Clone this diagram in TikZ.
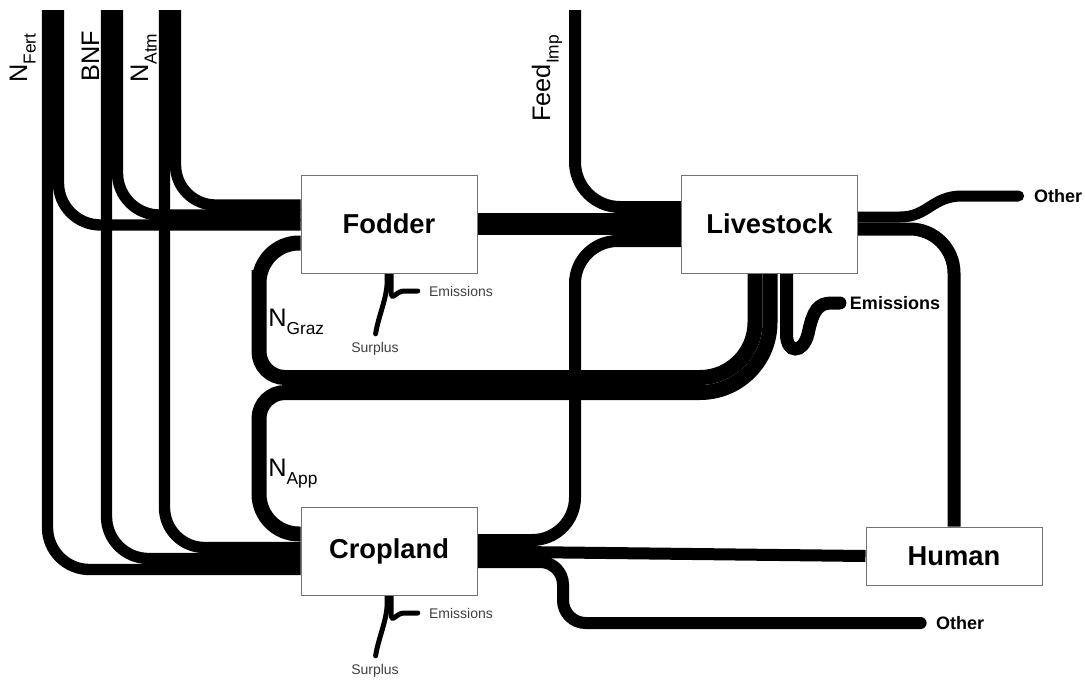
\documentclass[tikz,border=0pt]{standalone}
\usepackage{fontspec}
\setmainfont{Liberation Sans}
\usetikzlibrary{backgrounds}
\newcommand{\nsub}[2]{#1\raisebox{-6.5pt}{\fontsize{13}{13}\selectfont #2}}

\begin{document}
\begin{tikzpicture}[x=0.75pt,y=-0.75pt,
            box/.style={draw=black!55,line width=0.75pt,fill=white,minimum width=132pt,font=\fontsize{20.5}{24}\selectfont\bfseries},
            flow/.style={draw=black,line width=#1},
            tipend/.style={line cap=round,shorten >=8pt},
            stub/.style={draw=black,line width=3.75pt,line cap=round,shorten >=3pt},
            lab/.style={inner sep=0pt,anchor=base west,font=\fontsize{19}{22}\selectfont},
            sink/.style={font=\fontsize{13.5}{16}\selectfont\bfseries},
            small/.style={text=black!75,font=\fontsize{10.5}{12}\selectfont}]
            \useasboundingbox (0,0) rectangle (1085,682);
            \node[box,minimum height=73.5pt] (fod) at (389,224) {Fodder};
            \node[box,minimum height=73.5pt] (live) at (769.5,224) {Livestock};
            \node[box,minimum height=66pt] (crop) at (389,551) {Cropland};
            \node[box,minimum height=43.5pt] (hum) at (954,556) {Human};
            \node[sink] (lother) at (1058,196) {Other};
            \node[sink] (lemis) at (895,303) {Emissions};
            \node[sink] (cother) at (960,623) {Other};
            \node[small] (femis) at (461,291) {Emissions};
            \node[small] (fsur) at (375,349) {Surplus};
            \node[small] (cemis) at (461,613) {Emissions};
            \node[small] (csur) at (375,671) {Surplus};
            \node[lab,rotate=90] at (27,83) {\nsub{N}{Fert}};
            \node[lab,rotate=90] at (99,82) {BNF};
            \node[lab,rotate=90] at (148,83) {\nsub{N}{Atm}};
            \node[lab,rotate=90] at (550,122) {\nsub{Feed}{Imp}};
            \node[lab] at (268,326) {\nsub{N}{Graz}};
            \node[lab] at (268,476) {\nsub{N}{App}};
            \coordinate (fertF) at (58.5,10);
            \coordinate (fertC) at (47.5,10);
            \coordinate (bnfF) at (117.5,10);
            \coordinate (bnfC) at (106.5,10);
            \coordinate (atmF) at (175.5,10);
            \coordinate (atmC) at (164.5,10);
            \coordinate (feed) at (575,10);
            \begin{scope}[on background layer]
              \draw[flow=8.5pt,rounded corners=31.5pt] (fertF) |- (fod.west |- 0,225);
              \draw[flow=8.5pt,rounded corners=31.5pt] (fertC) |- (crop.west |- 0,569.5);
              \draw[flow=8.5pt,rounded corners=31.5pt] (bnfF) |- (fod.west |- 0,215);
              \draw[flow=8.5pt,rounded corners=31.5pt] (bnfC) |- (crop.west |- 0,558.5);
              \draw[flow=8.5pt,rounded corners=30pt] (atmF) |- (fod.west |- 0,205);
              \draw[flow=8.5pt,rounded corners=30pt] (atmC) |- (crop.west |- 0,547.5);
              \draw[flow=9pt,rounded corners=33.75pt] (feed) |- (live.west |- 0,207);
              \draw[flow=16.5pt] (fod.east |- 0,224) -- (live.west |- 0,224);
              \draw[flow=9pt,rounded corners=32pt] (crop.east |- 0,540) -| (575,400) |- (live.west |- 0,241);
              \draw[flow=11.25pt,rounded corners=30pt] (fod.west |- 0,243) -| (259,310)
                [rounded corners=19.5pt] |- (600,377.5)
                [rounded corners=41.25pt] -| (live.south -| 755,0);
              \draw[flow=11.25pt,rounded corners=52.5pt] (live.south -| 770,0) |- (600,392.5)
                [rounded corners=19.5pt] -| (259,460)
                [rounded corners=30pt] |- (crop.west |- 0,534);
              \draw[flow=9.75pt,tipend,shorten >=4pt] (live.south -| 786.5,0) -- (786.5,334)
                .. controls (786.5,354) and (803,354) .. (808,334)
                .. controls (813,310) and (818,303) .. (832,303) -- (lemis.west);
              \draw[flow=8.25pt,tipend] (live.east |- 0,217) -- (900,217)
                .. controls (928,217) and (932,196) .. (962,196) -- (lother.west);
              \draw[flow=9.75pt,rounded corners=33pt] (live.east |- 0,229) -| (hum.north);
              \draw[flow=9pt] (crop.east |- 0,551.5) -- (hum.west |- 0,556);
              \draw[flow=9pt,tipend,rounded corners=17pt] (crop.east |- 0,562) -| (563,623) -- (cother.west);
              \draw[stub] (fod.south -| 387,0) -- (387,285) .. controls (386,300) and (378,318) .. (fsur.north);
              \draw[stub,shorten >=5pt] (fod.south -| 391,0) -- (391,292) .. controls (392,302) and (396,291) .. (404,291) -- (femis.west);
              \draw[stub] (crop.south -| 387,0) -- (387,607) .. controls (386,622) and (378,640) .. (csur.north);
              \draw[stub,shorten >=5pt] (crop.south -| 391,0) -- (391,614) .. controls (392,624) and (396,613) .. (404,613) -- (cemis.west);
            \end{scope}
          \end{tikzpicture}
\end{document}
